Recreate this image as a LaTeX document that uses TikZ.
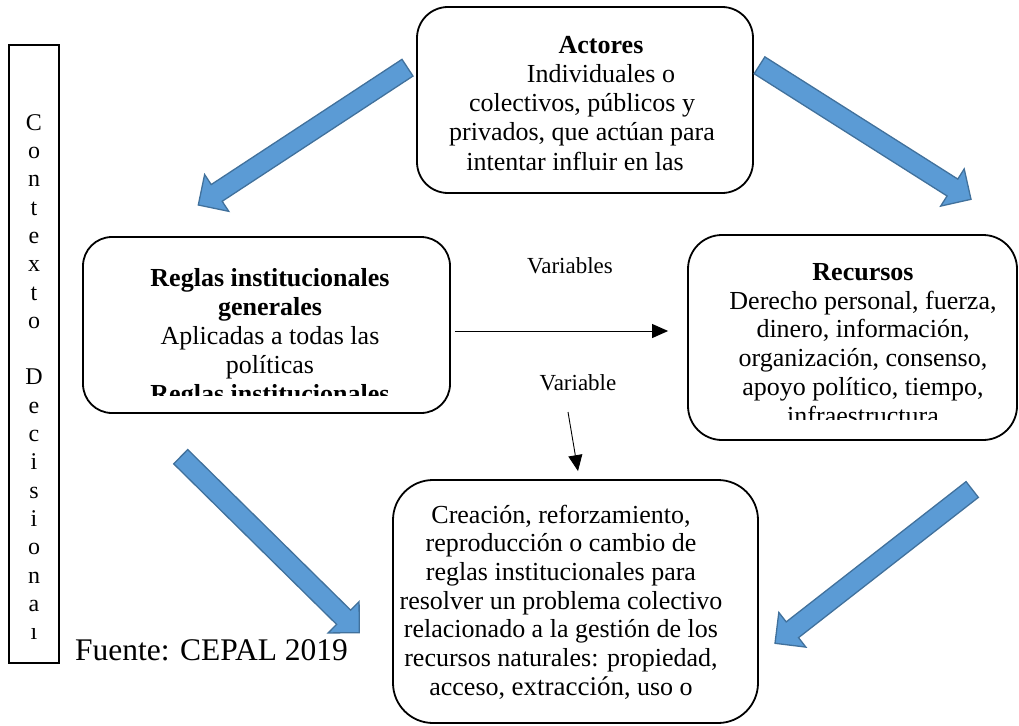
\documentclass[tikz,border=0pt]{standalone}
\usepackage{fontspec}
\setmainfont{Liberation Serif}
\newfontfamily\plainfont{Liberation Serif}
\usetikzlibrary{calc,arrows.meta}
\definecolor{arrfill}{HTML}{5B9BD5}
\definecolor{arrline}{HTML}{41719C}
\newcommand{\blockarr}[2]{%
  \coordinate (#1n) at ($(#2)!22pt!(#1)$);
  \draw[blockarrow] ($(#1)!10pt!90:(#2)$) -- ($(#1n)!10pt!90:(#2)$) -- ($(#1n)!22pt!90:(#2)$) -- (#2) -- ($(#1n)!22pt!-90:(#2)$) -- ($(#1n)!10pt!-90:(#2)$) -- ($(#1)!10pt!-90:(#2)$) -- cycle;}
\begin{document}
\begin{tikzpicture}[x=1pt,y=-1pt,
  box/.style={draw=black, line width=1.8pt, inner sep=0pt},
  txt/.style={inner sep=0pt, align=center, anchor=north},
  blockarrow/.style={fill=arrfill, draw=arrline, line width=1.3pt, line join=miter},
  thinarrow/.style={line width=0.9pt, -{Triangle[length=16pt,width=14pt]}},
  lbl/.style={inner sep=0pt, anchor=base, font=\plainfont\fontsize{23}{27}\selectfont}
]
\useasboundingbox (0,0) rectangle (1019,725);

% boxes
\node[box, minimum width=50pt, minimum height=618pt] (ctx) at (34,354) {};
\node[box, rounded corners=31pt, minimum width=336pt, minimum height=186pt] (actores) at (585,100) {};
\node[box, rounded corners=29pt, minimum width=367pt, minimum height=176pt] (reglas) at (266.5,325) {};
\node[box, rounded corners=34pt, minimum width=329pt, minimum height=205pt] (recursos) at (852.5,337.5) {};
\node[box, rounded corners=40pt, minimum width=365pt, minimum height=243pt] (result) at (575.5,601.5) {};

% vertical text
\node[txt, font=\fontsize{24}{28.3}\selectfont] (ctxtxt) at (34,106)
  {\rule{0pt}{24pt}C\\o\\n\\t\\e\\x\\t\\o\\\mbox{}\\D\\e\\c\\i\\s\\i\\o\\n\\a\\ı};

% box texts (clipped like the original text boxes)
\begin{scope}
  \clip (417,7) rectangle (753,172);
  \node[txt, font=\fontsize{26}{29.25}\selectfont] (actxt) at (582,29)
    {\rule{0pt}{24pt}\hspace*{38pt}\textbf{Actores}\\
     \hspace*{38pt}Individuales o\\
     colectivos, públicos y\\
     privados, que actúan para\\
     intentar influir en las\hspace*{14pt}\mbox{}};
\end{scope}
\begin{scope}
  \clip (83,237) rectangle (450,395);
  \node[txt, font=\fontsize{26}{29}\selectfont] (regtxt) at (270,262)
    {\rule{0pt}{24pt}\textbf{Reglas institucionales}\\
     \textbf{generales}\\
     Aplicadas a todas las\\
     políticas\\
     \textbf{Reglas institucionales}};
\end{scope}
\begin{scope}
  \clip (688,235) rectangle (1017,419);
  \node[txt, font=\fontsize{26}{28.8}\selectfont] (rectxt) at (863,256)
    {\rule{0pt}{24pt}\textbf{Recursos}\\
     Derecho personal, fuerza,\\
     dinero, información,\\
     organización, consenso,\\
     apoyo político, tiempo,\\
     infraestructura};
\end{scope}
\node[txt, font=\fontsize{26}{28.67}\selectfont] (restxt) at (561,499)
  {\rule{0pt}{24pt}Creación, reforzamiento,\\
   reproducción o cambio de\\
   reglas institucionales para\\
   resolver un problema colectivo\\
   relacionado a la gestión de los\\
   recursos naturales: propiedad,\\
   acceso, {\fontsize{27}{28.67}\selectfont extracción}, uso o};

% labels
\node[lbl] (varsl) at (570,273) {Variables};
\node[lbl] (varl) at (578,390) {Variable};
\node[inner sep=0pt, anchor=base west, font=\fontsize{31.5}{36}\selectfont] (fuente) at (75,660) {Fuente: CEPAL 2019};

% thin arrows
\coordinate (h1) at ([xshift=4pt,yshift=-6pt]reglas.east);
\draw[thinarrow, shorten >=19pt] (h1) -- (h1 -| recursos.west);
\draw[thinarrow] ([xshift=-10pt,yshift=-22pt]varl.base) -- ([xshift=2.5pt,yshift=8pt]result.north);

% block arrows
\coordinate (a1t) at (407.5,67.7);  \coordinate (a1h) at (198.3,205);
\coordinate (a2t) at (759.5,65.3);  \coordinate (a2h) at (971,199.3);
\coordinate (a3t) at (180.7,456.7); \coordinate (a3h) at (359.3,632.7);
\coordinate (a4t) at (972.2,489.5); \coordinate (a4h) at (775,643.3);
\blockarr{a1t}{a1h}
\blockarr{a2t}{a2h}
\blockarr{a3t}{a3h}
\blockarr{a4t}{a4h}
\end{tikzpicture}
\end{document}
